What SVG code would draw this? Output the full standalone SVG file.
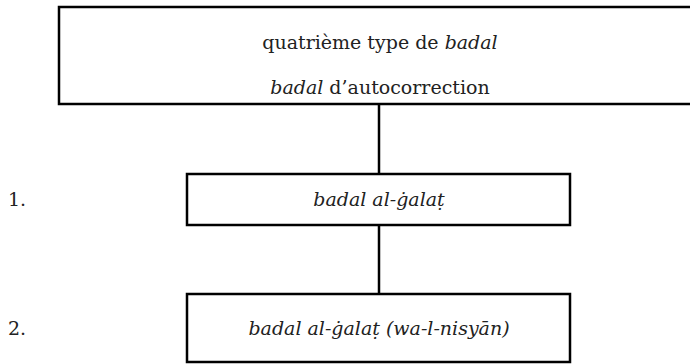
<svg xmlns="http://www.w3.org/2000/svg" width="690" height="364" viewBox="0 0 690 364">
<style>
.box{fill:#fff;stroke:#000;stroke-width:2.5}
.con{stroke:#000;stroke-width:2.5;fill:none}
text{font-family:"DejaVu Serif","Liberation Serif",serif;font-size:19px;fill:#222}
.c{text-anchor:middle}
.i{font-style:italic}
</style>
<rect width="690" height="364" fill="#fff"/>
<g id="connectors">
<line class="con" x1="379" y1="104" x2="379" y2="174"/>
<line class="con" x1="379" y1="225" x2="379" y2="294"/>
</g>
<g id="node-top">
<rect class="box" x="59" y="7" width="660" height="97"/>
<text class="c" x="380" y="49">quatrième type de <tspan class="i">badal</tspan></text>
<text class="c" x="380" y="94"><tspan class="i">badal</tspan> d’autocorrection</text>
</g>
<g id="node-1">
<rect class="box" x="187" y="174" width="383" height="51"/>
<text class="c i" x="379" y="206">badal al-ġalaṭ</text>
</g>
<g id="node-2">
<rect class="box" x="187" y="294" width="383" height="68"/>
<text class="c i" x="379" y="335">badal al-ġalaṭ (wa-l-nisyān)</text>
</g>
<text x="8" y="206">1.</text>
<text x="8" y="335">2.</text>
</svg>
